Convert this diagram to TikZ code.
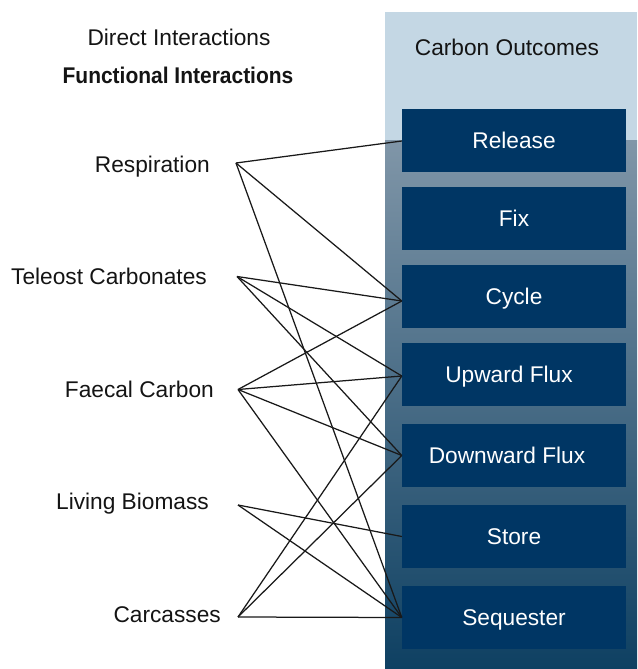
\documentclass[tikz,border=0pt]{standalone}
\usepackage{fontspec}
\usepackage{graphicx}
\setmainfont{Liberation Sans}
\definecolor{panellight}{RGB}{196,215,228}
\definecolor{paneltop}{RGB}{128,150,168}
\definecolor{panelmid}{RGB}{78,115,145}
\definecolor{paneldark}{RGB}{14,64,98}
\definecolor{boxblue}{RGB}{0,54,100}
\definecolor{linegray}{RGB}{25,25,25}
\definecolor{txt}{RGB}{20,20,20}
\begin{document}
\begin{tikzpicture}[x=1pt,y=-1pt,
  bigfont/.style={font=\fontsize{22.7}{27}\selectfont},
  lbl/.style={bigfont, text=txt, inner sep=0pt, anchor=base east},
  hdr/.style={bigfont, text=txt, inner sep=0pt, anchor=base},
  outbox/.style={bigfont, fill=boxblue, minimum width=224pt, minimum height=63pt,
    inner sep=0pt, text=white, text height=16.3pt, text depth=0pt},
  link/.style={draw=linegray, line width=1.25pt}]
\useasboundingbox (0,0) rectangle (637,669);
% panel
\fill[panellight] (385,12) rectangle (637,140);
\shade[top color=paneltop, middle color=panelmid, bottom color=paneldark] (385,140) rectangle (637,669);
% headers
\node[hdr] (hdirect) at (179,46) {Direct Interactions};
\node[hdr] (hfunc) at (178,83) {\scalebox{0.924}[1]{\bfseries Functional Interactions}};
\node[hdr] (hcarbon) at (507,56) {Carbon Outcomes};
% outcome boxes
\node[outbox] (release) at (514,140) {Release};
\node[outbox] (fix) at (514,218) {Fix};
\node[outbox] (cycle) at (514,296.5) {Cycle};
\node[outbox] (upward) at (514,374.5) {\hspace*{-10pt}Upward Flux};
\node[outbox] (downward) at (514,455.5) {\hspace*{-14pt}Downward Flux};
\node[outbox] (store) at (514,536.5) {Store};
\node[outbox] (sequester) at (514,617.5) {Sequester};
% interaction labels
\node[lbl] (resp) at (210,172) {Respiration};
\node[lbl] (teleost) at (207,284) {Teleost Carbonates};
\node[lbl] (faecal) at (214,397) {Faecal Carbon};
\node[lbl] (living) at (209,509) {Living Biomass};
\node[lbl] (carc) at (221,622) {Carcasses};
% connector start points
\coordinate (sresp) at (236,163);
\coordinate (steleost) at (237,276.5);
\coordinate (sfaecal) at (238,389.5);
\coordinate (sliving) at (238,505);
\coordinate (scarc) at (238,617);
\coordinate (ecycle) at ([yshift=-4.5pt]cycle.west);
% connectors
\draw[link] (sresp) -- ([yshift=-1pt]release.west);
\draw[link] (sresp) -- (ecycle);
\draw[link] (sresp) -- (sequester.west);
\draw[link] (steleost) -- (ecycle);
\draw[link] (steleost) -- ([yshift=-1.5pt]upward.west);
\draw[link] (steleost) -- (downward.west);
\draw[link] (sfaecal) -- (ecycle);
\draw[link] (sfaecal) -- ([yshift=-1.5pt]upward.west);
\draw[link] (sfaecal) -- (downward.west);
\draw[link] (sfaecal) -- (sequester.west);
\draw[link] (sliving) -- (store.west);
\draw[link] (sliving) -- (sequester.west);
\draw[link] (scarc) -- ([yshift=-1.5pt]upward.west);
\draw[link] (scarc) -- (downward.west);
\draw[link] (scarc) -- (sequester.west);
\end{tikzpicture}
\end{document}
